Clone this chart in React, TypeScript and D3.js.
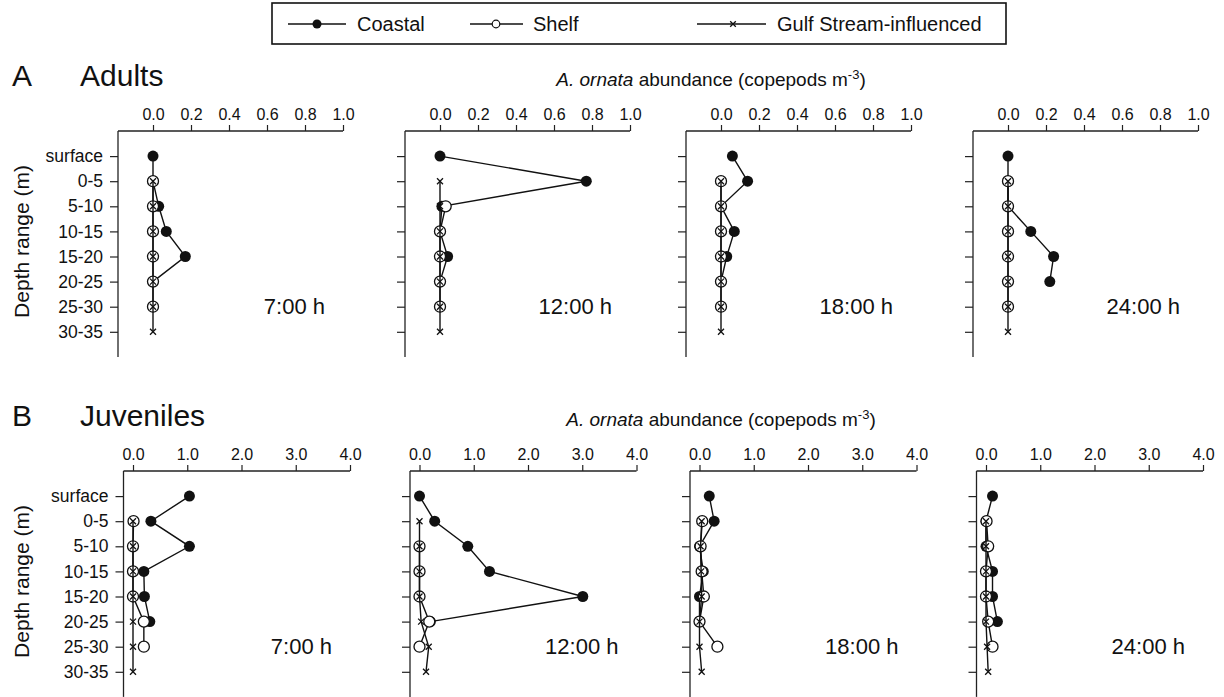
import React, { useRef, useEffect } from 'react';
import * as d3 from 'd3';

// depth strata (y categories)
const depths = ['surface', '0-5', '5-10', '10-15', '15-20', '20-25', '25-30', '30-35'];
const times = ['7:00 h', '12:00 h', '18:00 h', '24:00 h'];

const adultTicks = [0, 0.2, 0.4, 0.6, 0.8, 1.0];
const juvTicks = [0, 1, 2, 3, 4];

// Adults, one array per sampling time, aligned with depths (null = not sampled)
const adultCoastal = [
  [0.0, 0.0, 0.03, 0.07, 0.17, 0.0, null, null],
  [0.0, 0.77, 0.01, 0.0, 0.04, 0.0, null, null],
  [0.06, 0.14, 0.0, 0.07, 0.03, 0.0, null, null],
  [0.0, 0.0, 0.0, 0.12, 0.24, 0.22, null, null],
];
const adultShelf = [
  [null, 0, 0, 0, 0, 0, 0, null],
  [null, null, 0.03, 0, 0, 0, 0, null],
  [null, 0, 0, 0, 0, 0, 0, null],
  [null, 0, 0, 0, 0, 0, 0, null],
];
const adultGulf = [
  [null, 0, 0, 0, 0, 0, 0, 0],
  [null, 0, 0, 0, 0, 0, 0, 0],
  [null, 0, 0, 0, 0, 0, 0, 0],
  [null, 0, 0, 0, 0, 0, 0, 0],
];

// Juveniles
const juvCoastal = [
  [1.04, 0.33, 1.04, 0.2, 0.21, 0.31, null, null],
  [0.0, 0.28, 0.89, 1.29, 3.01, 0.2, null, null],
  [0.18, 0.27, 0.0, 0.07, 0.0, 0.0, null, null],
  [0.12, 0.0, 0.0, 0.12, 0.12, 0.21, null, null],
];
const juvShelf = [
  [null, 0.01, 0.0, 0.0, 0.0, 0.2, 0.2, null],
  [null, null, 0.0, 0.0, 0.0, 0.18, 0.0, null],
  [null, 0.05, 0.02, 0.04, 0.08, 0.0, 0.33, null],
  [null, 0.01, 0.04, 0.0, 0.0, 0.04, 0.12, null],
];
const juvGulf = [
  [null, 0, 0, 0, 0, 0, 0, 0],
  [null, 0, 0, 0, 0, 0.03, 0.17, 0.12],
  [null, 0.04, 0.02, 0.03, 0.04, 0.0, 0.0, 0.04],
  [null, 0, 0, 0, 0, 0, 0.02, 0.04],
];

const FONT = '"Liberation Sans", Arial, Helvetica, sans-serif';

const rows = [
  {
    letter: 'A', title: 'Adults', axisY: 131, ticks: adultTicks, fmt: d3.format('.1f'), max: 1,
    zeros: [153, 440, 721, 1008], width: 190, offset: 35, labelX: 711,
    coastal: adultCoastal, shelf: adultShelf, gulf: adultGulf,
  },
  {
    letter: 'B', title: 'Juveniles', axisY: 471, ticks: juvTicks, fmt: d3.format('.1f'), max: 4,
    zeros: [133, 419.5, 699.5, 986], width: 217, offset: 9.5, labelX: 721,
    coastal: juvCoastal, shelf: juvShelf, gulf: juvGulf,
  },
];

const App = () => {
  const svgRef = useRef();

  useEffect(() => {
    document.body.style.margin = '0';
    const svg = d3.select(svgRef.current);
    svg.selectAll('*').remove();

    const step = 25.1;
    const R = 5.5;

    const drawX = (g, cx, cy, s) => {
      g.append('path')
        .attr('d', `M${cx - s},${cy - s}L${cx + s},${cy + s}M${cx - s},${cy + s}L${cx + s},${cy - s}`)
        .attr('stroke', '#111').attr('stroke-width', 1.3).attr('fill', 'none');
    };

    // Legend
    const leg = svg.append('g');
    leg.append('rect').attr('x', 272).attr('y', 3).attr('width', 734).attr('height', 41)
      .attr('fill', 'white').attr('stroke', '#111').attr('stroke-width', 1.6);
    const legItems = [
      { name: 'Coastal', x1: 288, x2: 346, m: 317, tx: 357, type: 'coastal' },
      { name: 'Shelf', x1: 470, x2: 523, m: 496, tx: 533, type: 'shelf' },
      { name: 'Gulf Stream-influenced', x1: 697, x2: 766, m: 733, tx: 777, type: 'gulf' },
    ];
    legItems.forEach(it => {
      leg.append('line').attr('x1', it.x1).attr('x2', it.x2).attr('y1', 24).attr('y2', 24)
        .attr('stroke', '#111').attr('stroke-width', 1.3);
      if (it.type === 'coastal') leg.append('circle').attr('cx', it.m).attr('cy', 24).attr('r', 4.5).attr('fill', '#111');
      if (it.type === 'shelf') leg.append('circle').attr('cx', it.m).attr('cy', 24).attr('r', 3.8)
        .attr('fill', 'white').attr('stroke', '#111').attr('stroke-width', 1.2);
      if (it.type === 'gulf') drawX(leg, it.m, 24, 2.8);
      leg.append('text').attr('x', it.tx).attr('y', 31).attr('font-family', FONT)
        .attr('font-size', 20).attr('fill', '#111').text(it.name);
    });

    rows.forEach(row => {
      const g = svg.append('g');
      const baseY = row.axisY - 45;

      g.append('text').attr('x', 12).attr('y', baseY).attr('font-family', FONT)
        .attr('font-size', 30).attr('fill', '#111').text(row.letter);
      g.append('text').attr('x', 80).attr('y', baseY).attr('font-family', FONT)
        .attr('font-size', 30).attr('fill', '#111').text(row.title);

      const lab = g.append('text').attr('x', row.labelX).attr('y', baseY).attr('text-anchor', 'middle')
        .attr('font-family', FONT).attr('font-size', 19).attr('fill', '#111');
      lab.append('tspan').attr('font-style', 'italic').text('A. ornata');
      lab.append('tspan').text(' abundance (copepods m');
      lab.append('tspan').attr('font-size', 13).attr('dy', -7).text('-3');
      lab.append('tspan').attr('dy', 7).text(')');

      const y = d3.scalePoint().domain(depths).range([row.axisY + step, row.axisY + step * 8]);
      const bottom = row.axisY + step * 9;

      // y label
      g.append('text')
        .attr('transform', `translate(29,${row.axisY + step * 4.4}) rotate(-90)`)
        .attr('text-anchor', 'middle').attr('font-family', FONT).attr('font-size', 21)
        .attr('fill', '#111').text('Depth range (m)');

      row.zeros.forEach((z, p) => {
        const x = d3.scaleLinear().domain([0, row.max]).range([z, z + row.width]);
        const left = z - row.offset;
        const pg = g.append('g');

        // top axis
        const top = pg.append('g').attr('transform', `translate(0,${row.axisY})`)
          .call(d3.axisTop(x).tickValues(row.ticks).tickFormat(row.fmt).tickSize(6).tickSizeOuter(0).tickPadding(5));
        top.select('.domain').remove();
        top.selectAll('line').attr('stroke', '#222').attr('stroke-width', 1.2);
        top.selectAll('text').attr('font-family', FONT).attr('font-size', 16).attr('fill', '#111');
        pg.append('line').attr('x1', left).attr('x2', x(row.max)).attr('y1', row.axisY).attr('y2', row.axisY)
          .attr('stroke', '#222').attr('stroke-width', 1.3);

        // left axis
        const la = pg.append('g').attr('transform', `translate(${left},0)`)
          .call(d3.axisLeft(y).tickSize(8).tickSizeOuter(0).tickPadding(7).tickFormat(p === 0 ? (d => d) : () => ''));
        la.select('.domain').remove();
        la.selectAll('line').attr('stroke', '#222').attr('stroke-width', 1.2);
        la.selectAll('text').attr('font-family', FONT).attr('font-size', 17.5).attr('fill', '#111');
        pg.append('line').attr('x1', left).attr('x2', left).attr('y1', row.axisY).attr('y2', bottom)
          .attr('stroke', '#222').attr('stroke-width', 1.3);

        const line = d3.line()
          .defined(d => d[1] != null)
          .x(d => x(d[1]))
          .y(d => y(d[0]));
        const pts = vals => depths.map((d, i) => [d, vals[i]]);
        const drawLine = vals => pg.append('path').datum(pts(vals)).attr('d', line)
          .attr('fill', 'none').attr('stroke', '#111').attr('stroke-width', 1.4);

        // coastal
        drawLine(row.coastal[p]);
        pts(row.coastal[p]).filter(d => d[1] != null).forEach(d => {
          pg.append('circle').attr('cx', x(d[1])).attr('cy', y(d[0])).attr('r', R).attr('fill', '#111');
        });
        // shelf
        drawLine(row.shelf[p]);
        pts(row.shelf[p]).filter(d => d[1] != null).forEach(d => {
          pg.append('circle').attr('cx', x(d[1])).attr('cy', y(d[0])).attr('r', R)
            .attr('fill', 'white').attr('stroke', '#111').attr('stroke-width', 1.3);
        });
        // gulf stream-influenced
        drawLine(row.gulf[p]);
        pts(row.gulf[p]).filter(d => d[1] != null).forEach(d => drawX(pg, x(d[1]), y(d[0]), 3));

        // time label
        pg.append('text').attr('x', x(row.max) - 18).attr('y', y('25-30') + 7)
          .attr('text-anchor', 'end').attr('font-family', FONT).attr('font-size', 22)
          .attr('fill', '#111').text(times[p]);
      });
    });
  }, []);

  return <svg ref={svgRef} width={1224} height={697} style={{ display: 'block', background: 'white' }} />;
};

export default App;
